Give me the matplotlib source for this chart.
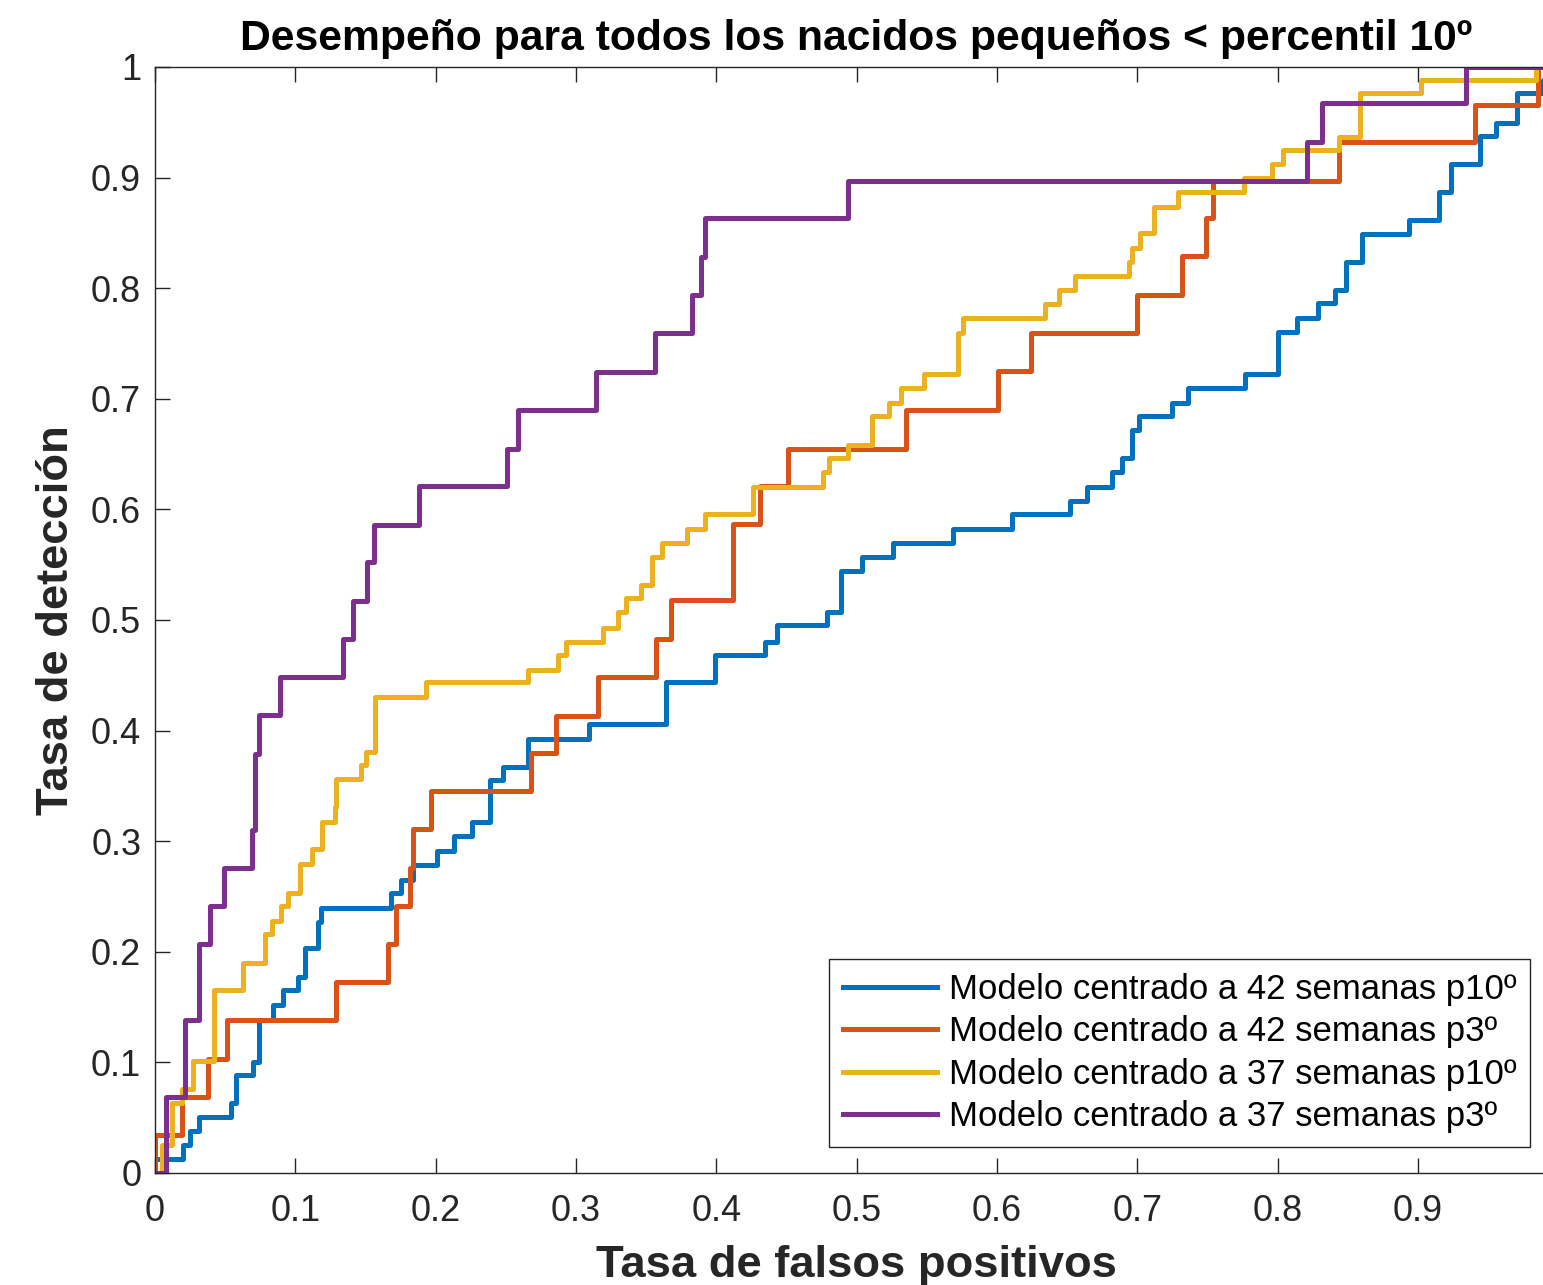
import matplotlib
matplotlib.use("Agg")
import matplotlib.pyplot as plt

# Puntos de la curva ROC (fpr donde ocurre el salto, tpr tras el salto)
fpr_42_p10 = [0.000, 0.000, 0.020, 0.025, 0.031, 0.054, 0.058, 0.070, 0.074, 0.084,
              0.091, 0.102, 0.107, 0.116, 0.118, 0.168, 0.175, 0.184, 0.201, 0.213,
              0.226, 0.239, 0.248, 0.266, 0.309, 0.364, 0.399, 0.435, 0.443, 0.479,
              0.489, 0.504, 0.526, 0.569, 0.611, 0.652, 0.664, 0.682, 0.689, 0.696,
              0.701, 0.725, 0.736, 0.777, 0.800, 0.814, 0.829, 0.841, 0.849, 0.860,
              0.894, 0.915, 0.924, 0.944, 0.956, 0.971, 0.989, 0.995, 1.000]
tpr_42_p10 = [0.000, 0.013, 0.025, 0.038, 0.051, 0.063, 0.089, 0.100, 0.138, 0.152,
              0.165, 0.177, 0.203, 0.227, 0.240, 0.253, 0.265, 0.278, 0.291, 0.305,
              0.317, 0.355, 0.367, 0.392, 0.406, 0.444, 0.468, 0.480, 0.495, 0.507,
              0.544, 0.557, 0.570, 0.582, 0.596, 0.608, 0.620, 0.634, 0.646, 0.672,
              0.684, 0.696, 0.710, 0.722, 0.760, 0.773, 0.787, 0.798, 0.824, 0.849,
              0.862, 0.887, 0.912, 0.938, 0.949, 0.976, 0.988, 1.000, 1.000]

fpr_42_p3 = [0.000, 0.000, 0.019, 0.038, 0.051, 0.129, 0.166, 0.172, 0.182, 0.184,
             0.197, 0.268, 0.286, 0.316, 0.357, 0.368, 0.412, 0.431, 0.451, 0.535,
             0.601, 0.624, 0.700, 0.732, 0.749, 0.754, 0.844, 0.941, 0.986, 1.000]
tpr_42_p3 = [0.000, 0.034, 0.069, 0.103, 0.138, 0.173, 0.207, 0.241, 0.276, 0.311,
             0.345, 0.380, 0.413, 0.448, 0.483, 0.518, 0.587, 0.621, 0.655, 0.690,
             0.725, 0.759, 0.794, 0.829, 0.863, 0.897, 0.932, 0.966, 1.000, 1.000]

fpr_37_p10 = [0.005, 0.005, 0.012, 0.019, 0.027, 0.042, 0.063, 0.078, 0.083, 0.090,
              0.095, 0.103, 0.112, 0.119, 0.128, 0.129, 0.147, 0.150, 0.157, 0.193,
              0.266, 0.287, 0.293, 0.319, 0.330, 0.336, 0.346, 0.354, 0.361, 0.379,
              0.392, 0.426, 0.476, 0.480, 0.494, 0.511, 0.523, 0.532, 0.548, 0.572,
              0.576, 0.634, 0.644, 0.656, 0.694, 0.696, 0.702, 0.712, 0.729, 0.776,
              0.796, 0.804, 0.844, 0.859, 0.902, 0.984, 1.000]
tpr_37_p10 = [0.000, 0.025, 0.063, 0.076, 0.101, 0.165, 0.190, 0.216, 0.228, 0.241,
              0.253, 0.279, 0.293, 0.317, 0.331, 0.356, 0.369, 0.381, 0.430, 0.444,
              0.455, 0.468, 0.480, 0.493, 0.507, 0.520, 0.532, 0.557, 0.570, 0.582,
              0.596, 0.620, 0.634, 0.646, 0.658, 0.684, 0.696, 0.710, 0.722, 0.759,
              0.773, 0.786, 0.798, 0.811, 0.824, 0.836, 0.850, 0.873, 0.887, 0.900,
              0.912, 0.925, 0.937, 0.976, 0.988, 1.000, 1.000]

fpr_37_p3 = [0.000, 0.008, 0.021, 0.031, 0.039, 0.049, 0.069, 0.071, 0.074, 0.089,
             0.134, 0.141, 0.151, 0.156, 0.188, 0.251, 0.259, 0.314, 0.356, 0.383,
             0.389, 0.392, 0.494, 0.821, 0.832, 0.934, 1.000]
tpr_37_p3 = [0.000, 0.069, 0.138, 0.207, 0.241, 0.276, 0.310, 0.379, 0.414, 0.448,
             0.483, 0.517, 0.552, 0.586, 0.621, 0.655, 0.690, 0.724, 0.759, 0.794,
             0.828, 0.863, 0.897, 0.932, 0.967, 1.000, 1.000]

etiquetas = ["Modelo centrado a 42 semanas p10º",
             "Modelo centrado a 42 semanas p3º",
             "Modelo centrado a 37 semanas p10º",
             "Modelo centrado a 37 semanas p3º"]
colores = ["#0072BD", "#D95319", "#EDB120", "#7E2F8E"]

xticks = [0, 0.1, 0.2, 0.3, 0.4, 0.5, 0.6, 0.7, 0.8, 0.9]
xtick_labels = ["0", "0.1", "0.2", "0.3", "0.4", "0.5", "0.6", "0.7", "0.8", "0.9"]
yticks = [0, 0.1, 0.2, 0.3, 0.4, 0.5, 0.6, 0.7, 0.8, 0.9, 1]
ytick_labels = ["0", "0.1", "0.2", "0.3", "0.4", "0.5", "0.6", "0.7", "0.8", "0.9", "1"]

plt.rcParams['font.family'] = ['Liberation Sans', 'DejaVu Sans']

fig = plt.figure(figsize=(15.43, 12.85), dpi=100)
# el eje derecho (x = 1) queda fuera de la imagen, como en el original recortado
ax = fig.add_axes([0.1005, 0.0872, 0.9093, 0.8607])

curvas = [(fpr_42_p10, tpr_42_p10), (fpr_42_p3, tpr_42_p3),
          (fpr_37_p10, tpr_37_p10), (fpr_37_p3, tpr_37_p3)]
for (fx, ty), lab, col in zip(curvas, etiquetas, colores):
    ax.plot(fx, ty, drawstyle='steps-post', color=col, lw=3.6, label=lab)

ax.set_xlim(0, 1)
ax.set_ylim(0, 1)
ax.set_xticks(xticks)
ax.set_xticklabels(xtick_labels)
ax.set_yticks(yticks)
ax.set_yticklabels(ytick_labels)
ax.tick_params(direction='in', top=True, right=True, length=11, width=1.0,
               color='#262626', labelsize=26, labelcolor='#262626')
ax.tick_params(axis='x', pad=15)
ax.tick_params(axis='y', pad=10)
for s in ax.spines.values():
    s.set_color('#262626')
    s.set_linewidth(1.0)

ax.set_title("Desempeño para todos los nacidos pequeños < percentil 10º",
             fontsize=30.7, fontweight='bold', pad=12)
ax.set_xlabel("Tasa de falsos positivos", fontsize=32.7, fontweight='bold',
              color='#262626', labelpad=12)
ax.set_ylabel("Tasa de detección", fontsize=32.7, fontweight='bold',
              color='#262626', labelpad=10)

leg = ax.legend(loc='lower right', bbox_to_anchor=(0.980, 0.0235), fontsize=25,
                frameon=True, fancybox=False, edgecolor='#262626', framealpha=1,
                handlelength=2.7, handletextpad=0.35, labelspacing=0.27,
                borderpad=0.4, borderaxespad=0)
leg.get_frame().set_linewidth(1.0)

plt.savefig("out.png", dpi=100)
